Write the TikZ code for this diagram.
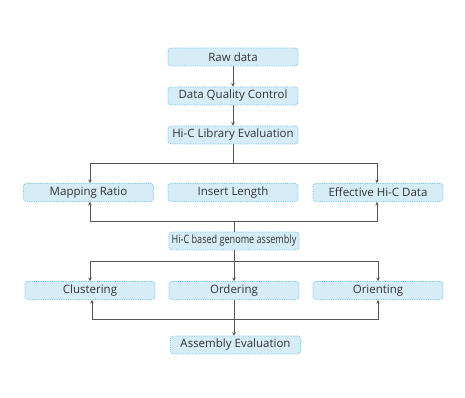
\documentclass[tikz,border=0pt]{standalone}
\usepackage{fontspec}
\setmainfont{Open Sans}
\usetikzlibrary{arrows.meta}
\definecolor{boxfill}{HTML}{D6ECF7}
\definecolor{boxline}{HTML}{6CC3DE}
\definecolor{arrowc}{HTML}{555555}
\tikzset{
  fbox/.style={draw=boxline, densely dotted, line width=0.8pt, fill=boxfill, rounded corners=3pt,
    minimum width=130pt, minimum height=18pt, inner sep=0pt, font=\fontsize{11.5}{12}\selectfont, text=black!80},
  conn/.style={draw=arrowc, line width=0.7pt},
  arr/.style={conn, -{Stealth[length=3.5pt,width=3.5pt]}}
}
\begin{document}
\begin{tikzpicture}[x=1pt,y=1pt]
\useasboundingbox (0,0) rectangle (465,398);
\node[fbox] (raw) at (233,341) {Raw data};
\node[fbox] (dqc) at (233,302) {Data Quality Control};
\node[fbox] (hlib) at (233,263) {Hi-C Library Evaluation};
\node[fbox] (map) at (88.5,205.5) {Mapping Ratio};
\node[fbox] (ins) at (233,205.5) {Insert Length};
\node[fbox] (eff) at (378,205.5) {Effective Hi-C Data};
\node[fbox] (hib) at (234,157) {\scalebox{0.79}[1]{Hi-C based genome assembly}};
\node[fbox] (clu) at (90,107.5) {Clustering};
\node[fbox] (ord) at (234,107.5) {Ordering};
\node[fbox] (ori) at (378,107.5) {Orienting};
\node[fbox] (ae) at (235.5,53) {Assembly Evaluation};

\coordinate (j1) at (233,235);
\coordinate (j2) at (234,177);
\coordinate (j3) at (234,137);
\coordinate (j4) at (234,79);

\draw[arr] (raw) -- (dqc);
\draw[arr] (dqc) -- (hlib);
\draw[conn] (hlib.south) -- (j1);
\draw[arr] (j1) -| ([xshift=1.5pt]map.north);
\draw[arr] (j1) -| ([xshift=-1pt]eff.north);
\draw[conn] (hib.north) -- (j2);
\draw[arr] (j2) -| ([xshift=1.5pt]map.south);
\draw[arr] (j2) -| ([xshift=-1pt]eff.south);
\draw[conn] (hib.south) -- (j3);
\draw[arr] (j3) -| (clu.north);
\draw[arr] (j3) -- (ord.north);
\draw[arr] (j3) -| (ori.north);
\draw[arr] (ord.south) -- (ord.south |- ae.north);
\draw[arr] (j4) -| ([xshift=2pt]clu.south);
\draw[arr] (j4) -| (ori.south);
\end{tikzpicture}
\end{document}
